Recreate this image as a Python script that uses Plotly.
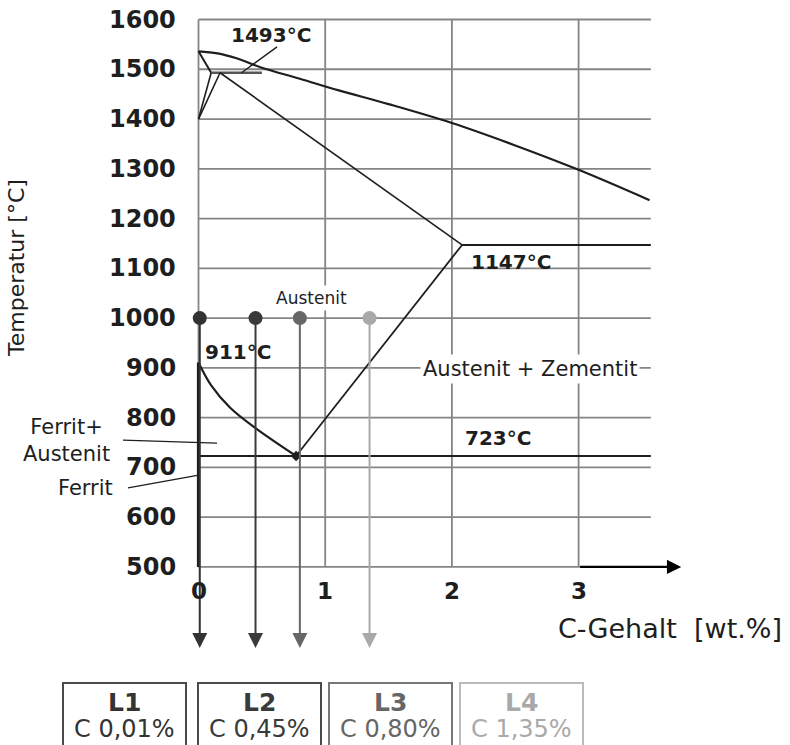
import plotly.graph_objects as go

# ---- Fe-Fe3C diagram, steel corner (C in wt.%, temperature in °C) ----
temp_ticks = [500, 600, 700, 800, 900, 1000, 1100, 1200, 1300, 1400, 1500, 1600]
c_ticks = [0, 1, 2, 3]
c_max = 3.57

# liquidus
liq_c = [0, 0.15, 0.3, 0.5, 0.8, 1.1, 1.5, 2.0, 2.5, 3.0, 3.56]
liq_t = [1536, 1532, 1522, 1503, 1481, 1458, 1430, 1392, 1347, 1298, 1237]

# delta-ferrite corner and peritectic
delta_sol_c = [0, 0.10]
delta_sol_t = [1536, 1493]
perit_c = [0.10, 0.50]
perit_t = [1493, 1493]
delta_lo_c = [0, 0.10]
delta_lo_t = [1400, 1493]
gamma_hi_c = [0, 0.17]
gamma_hi_t = [1400, 1493]

# austenite solidus and eutectic
sol_c = [0.17, 2.08]
sol_t = [1493, 1147]
eut_c = [2.08, c_max]
eut_t = [1147, 1147]

# A3 line, Acm line, eutectoid
a3_c = [0, 0.1, 0.25, 0.45, 0.77]
a3_t = [911, 865, 820, 779, 723]
acm_c = [0.77, 2.08]
acm_t = [723, 1147]
eutd_c = [0, c_max]
eutd_t = [723, 723]
ferrite_c = [0, 0]
ferrite_t = [911, 500]

# samples quenched from the austenite field
sample_names = ["L1", "L2", "L3", "L4"]
sample_c = [0.01, 0.45, 0.80, 1.35]
sample_t = 1000
sample_colors = ["#333333", "#3a3a3a", "#666666", "#a9a9a9"]
box_colors = ["#4a4a4a", "#4a4a4a", "#777777", "#bbbbbb"]

# ---- canvas geometry ----
W, H = 790, 745
X0_PX, X_UNIT = 198.5, 126.7      # px of C=0, px per wt.%
Y0_PX, Y_UNIT = 19.5, 0.4977      # px of 1600 °C, px per °C
x_rng = [-X0_PX / X_UNIT, (W - X0_PX) / X_UNIT]
y_rng = [1600 - (H - Y0_PX) / Y_UNIT, 1600 + Y0_PX / Y_UNIT]

GRID = "#858585"
INK = "#1e1e1e"
FONT = "DejaVu Sans"

fig = go.Figure()


def seg(xs, ys, color=INK, width=2.0):
    fig.add_trace(go.Scatter(x=xs, y=ys, mode="lines",
                             line=dict(color=color, width=width),
                             hoverinfo="skip", showlegend=False))


def note(x, y, text, font, ref="x", **kw):
    fig.add_annotation(x=x, y=y, xref=ref, yref=ref.replace("x", "y"),
                       text=text, showarrow=False, xanchor=kw.pop("xanchor", "center"),
                       yanchor="middle", font=font, **kw)


# grid
for t in temp_ticks:
    seg([0, c_max], [t, t], GRID, 1.8)
for c in c_ticks:
    seg([c, c], [500, 1600], GRID, 1.8)

# phase boundaries
fig.add_trace(go.Scatter(x=liq_c, y=liq_t, mode="lines",
                         line=dict(color=INK, width=2.2, shape="spline"),
                         hoverinfo="skip", showlegend=False))
seg(delta_sol_c, delta_sol_t)
seg(perit_c, perit_t, "#555555", 2.4)
seg(delta_lo_c, delta_lo_t, INK, 1.6)
seg(gamma_hi_c, gamma_hi_t, INK, 1.6)
seg(sol_c, sol_t, INK, 1.6)
seg(eut_c, eut_t)
fig.add_trace(go.Scatter(x=a3_c, y=a3_t, mode="lines",
                         line=dict(color=INK, width=2.2, shape="spline", smoothing=1.0),
                         hoverinfo="skip", showlegend=False))
seg(acm_c, acm_t, INK, 1.8)
seg(eutd_c, eutd_t)
seg(ferrite_c, ferrite_t, INK, 3.2)
fig.add_trace(go.Scatter(x=[acm_c[0]], y=[acm_t[0]], mode="markers",
                         marker=dict(color=INK, size=8, symbol="diamond"),
                         hoverinfo="skip", showlegend=False))

# x axis arrow beyond the last grid line
fig.add_annotation(x=3.81, y=500, ax=c_ticks[-1], ay=500, axref="x", ayref="y",
                   xref="x", yref="y", showarrow=True, arrowhead=2,
                   arrowsize=1.3, arrowwidth=2.2, arrowcolor="#000000",
                   standoff=0, startstandoff=0, text="")

# sample lines with arrows
arrow_end_t = 337
for name, c, col in zip(sample_names, sample_c, sample_colors):
    fig.add_annotation(x=c, y=arrow_end_t, ax=c, ay=sample_t, axref="x", ayref="y",
                       xref="x", yref="y", showarrow=True, arrowhead=2,
                       arrowsize=1.5, arrowwidth=2, arrowcolor=col,
                       standoff=0, text="")
fig.add_trace(go.Scatter(x=sample_c, y=[sample_t] * len(sample_c), mode="markers",
                         marker=dict(color=sample_colors, size=14),
                         hoverinfo="skip", showlegend=False))

# tick labels
for t in temp_ticks:
    note(-0.16, t, str(t), dict(family=FONT, size=24, color=INK, weight="bold"),
         xanchor="right")
for c in c_ticks:
    note(c, 452, str(c), dict(family=FONT, size=23, color=INK, weight="bold"))

# axis titles
note(16 / W, 1 - 268 / H, "Temperatur [°C]", dict(family=FONT, size=22, color=INK),
     ref="paper", textangle=-90)
note(670 / W, 1 - 628 / H, "C-Gehalt  [wt.%]", dict(family=FONT, size=27, color=INK),
     ref="paper")

# temperature marks
bold_lbl = dict(family=FONT, size=20, color=INK, weight="bold")
note(0.57, 1569, "1493°C", bold_lbl)
seg([0.62, 0.34], [1545, 1493], INK, 1.4)
note(0.31, 932, "911°C", bold_lbl)
note(2.47, 1113, "1147°C", bold_lbl)
note(2.36, 759, "723°C", bold_lbl)

# phase field names
note(0.89, 1040, "Austenit", dict(family=FONT, size=17, color=INK),
     bgcolor="#ffffff", borderpad=2)
note(2.62, 898, "Austenit + Zementit", dict(family=FONT, size=21, color=INK),
     bgcolor="#ffffff", borderpad=2)
note(-1.038, 755, "Ferrit+<br>Austenit", dict(family=FONT, size=21, color=INK))
seg([-0.596, 0.146], [755, 749], INK, 1.3)
note(-0.888, 659, "Ferrit", dict(family=FONT, size=21, color=INK))
seg([-0.556, 0.012], [659, 685], INK, 1.3)

# sample legend boxes
box_left = [63, 198, 329, 460]
box_w = 123
for name, c, col, bcol, bx in zip(sample_names, sample_c, sample_colors,
                                  box_colors, box_left):
    fig.add_shape(type="rect", xref="paper", yref="paper",
                  x0=bx / W, x1=(bx + box_w) / W, y0=1 - 683 / H, y1=-0.1,
                  line=dict(color=bcol, width=2), fillcolor="rgba(0,0,0,0)")
    cx = (bx + box_w / 2) / W
    note(cx, 1 - 702 / H, name, dict(family=FONT, size=25, color=col, weight="bold"),
         ref="paper")
    label = "C " + f"{c:.2f}".replace(".", ",") + "%"
    note(cx, 1 - 729 / H, label, dict(family=FONT, size=24, color=col), ref="paper")

fig.update_layout(
    width=W, height=H, autosize=False,
    margin=dict(l=0, r=0, t=0, b=0),
    paper_bgcolor="#ffffff", plot_bgcolor="#ffffff",
    xaxis=dict(range=x_rng, visible=False, fixedrange=True),
    yaxis=dict(range=y_rng, visible=False, fixedrange=True),
    showlegend=False,
)

fig.write_html("out.html")
